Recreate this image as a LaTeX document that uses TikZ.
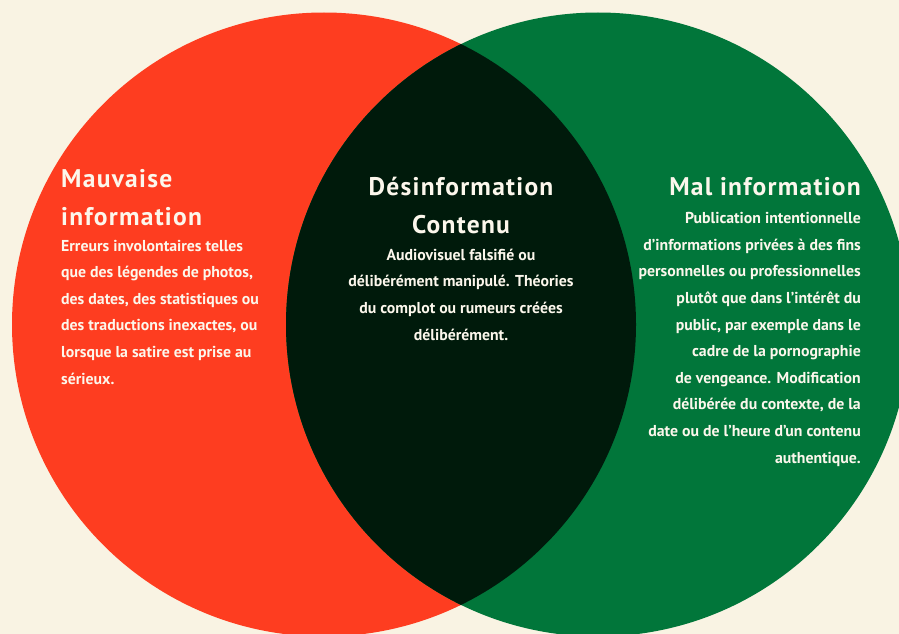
\documentclass[tikz,border=0pt]{standalone}
\usepackage{fontspec}
\setmainfont{PT Sans}
\newfontfamily\titrefont[LetterSpace=5]{PT Sans}
\usetikzlibrary{positioning}

\definecolor{fondcreme}{HTML}{F9F3E3}
\definecolor{rougemauvaise}{HTML}{FE3D20}
\definecolor{vertmal}{HTML}{01763A}
\definecolor{sombredes}{HTML}{001A0B}
\definecolor{texteclair}{HTML}{FCF7EC}

\tikzset{
  titre/.style={text=texteclair, inner sep=0pt, font={\titrefont\bfseries\fontsize{25.5}{37.5}\selectfont}},
  corps/.style={text=texteclair, inner sep=0pt, font={\bfseries\fontsize{15.8}{26.6}\selectfont}}
}

\begin{document}
\begin{tikzpicture}[x=1pt,y=-1pt]

        \fill[fondcreme] (0,0) rectangle (899,634);
        \useasboundingbox (0,0) rectangle (899,634);

        % les deux cercles et leur zone commune
        \begin{scope}
            \clip (0,0) rectangle (899,634);
            \fill[rougemauvaise] (324,324.5) circle[radius=312pt];
            \fill[vertmal] (598,324.5) circle[radius=312pt];
            \clip (324,324.5) circle[radius=312pt];
            \fill[sombredes] (598,324.5) circle[radius=312pt];
        \end{scope}

        % base = ligne du bas
        \node[titre, anchor=base west, align=left] (mauvaise) at (61,225) {Mauvaise\\information};
        \node[corps, anchor=base west, align=left] (mauvaisetxt) at (61,384) {Erreurs involontaires telles\\que des légendes de photos,\\des dates, des statistiques ou\\des traductions inexactes, ou\\lorsque la satire est prise au\\sérieux.};

        \node[titre, anchor=base, align=center] (desinfo) at (461,233) {Désinformation\\Contenu};
        \node[corps, anchor=base, align=center] (desinfotxt) at (461,340) {Audiovisuel falsifié ou\\délibérément manipulé. Théories\\du complot ou rumeurs créées\\délibérément.};

        \node[titre, anchor=base east, align=right] (malinfo) at (861,195) {Mal information};
        \node[corps, anchor=base east, align=right] (malinfotxt) at (861,463) {Publication intentionnelle\\d’informations privées à des fins\\personnelles ou professionnelles\\plutôt que dans l’intérêt du\\public, par exemple dans le\\cadre de la pornographie\\de vengeance. Modification\\délibérée du contexte, de la\\date ou de l’heure d’un contenu\\authentique.};
    \end{tikzpicture}
\end{document}
